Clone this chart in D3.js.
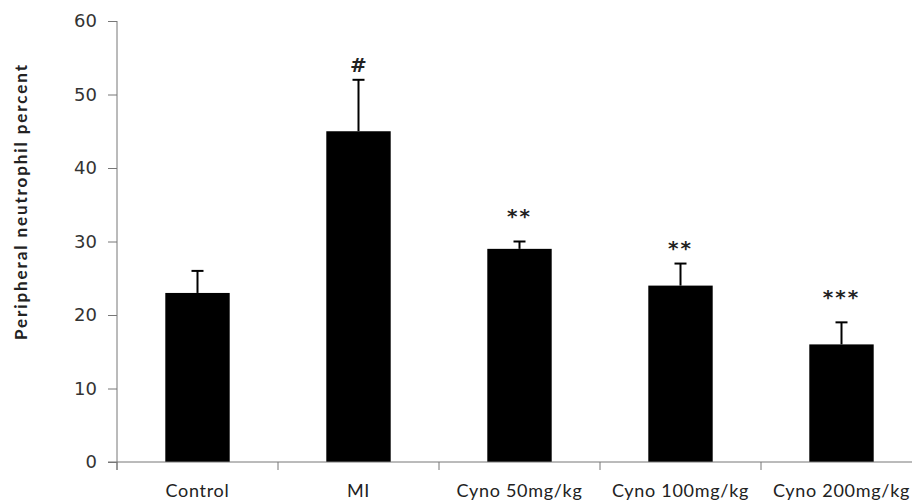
<!DOCTYPE html>
<html>
<head>
<meta charset="utf-8">
<script src="https://cdn.jsdelivr.net/npm/d3@7"></script>
<style>
  body { margin: 0; background: #fff; }
  svg { display: block; }
</style>
</head>
<body>
<div id="chart"></div>
<script>
// data
var groups = ["Control", "MI", "Cyno 50mg/kg", "Cyno 100mg/kg", "Cyno 200mg/kg"]
var means = [23, 45, 29, 24, 16]
var errors = [3, 7, 1, 3, 3]
var marks = ["", "#", "**", "**", "***"]
var markLevels = [0, 54, 34, 29.7, 23] //value where each mark sits
var yTicks = [0, 10, 20, 30, 40, 50, 60]

var width = 912, height = 502
var margin = {top: 21, right: -10, bottom: 40, left: 117}

var svg = d3.select("#chart").append("svg")
            .attr("width", width)
            .attr("height", height)

var x = d3.scaleBand()
          .domain(groups)
          .range([margin.left, width - margin.right])
          .paddingInner(0.6)
          .paddingOuter(0.3)

var band = d3.scaleBand().domain(groups).range([margin.left, width - margin.right])

var y = d3.scaleLinear()
          .domain([0, 60])
          .range([height - margin.bottom, margin.top])

// bars
svg.append("g").selectAll("rect").data(means)
   .enter()
   .append("rect")
   .attr("x", function(d,i){ return x(groups[i]) })
   .attr("y", function(d){ return y(d) })
   .attr("width", x.bandwidth())
   .attr("height", function(d){ return y(0) - y(d) })
   .style("fill", "#000")

// error bars (upper half only)
var errG = svg.append("g").style("stroke", "#000").style("stroke-width", 2)
means.forEach(function(d,i){
  var cx = x(groups[i]) + x.bandwidth()/2
  errG.append("line")
      .attr("x1", cx).attr("x2", cx)
      .attr("y1", y(d)).attr("y2", y(d + errors[i]))
  errG.append("line")
      .attr("x1", cx - 6).attr("x2", cx + 6)
      .attr("y1", y(d + errors[i])).attr("y2", y(d + errors[i]))
})

// significance marks
svg.append("g").selectAll("text").data(marks)
   .enter()
   .append("text")
   .attr("x", function(d,i){ return x(groups[i]) + x.bandwidth()/2 })
   .attr("y", function(d,i){ return y(markLevels[i]) })
   .attr("dy", function(d){ return d == "#" ? 7 : 11 })
   .attr("text-anchor", "middle")
   .style("font-family", "DejaVu Sans")
   .style("font-weight", "bold")
   .style("font-size", "20px")
   .style("letter-spacing", function(d){ return d == "#" ? "0px" : "2px" })
   .style("fill", "#222")
   .text(function(d){ return d })

// y axis
var yAxis = svg.append("g")
               .attr("transform", `translate(${margin.left},0)`)
               .call(d3.axisLeft(y).tickValues(yTicks).tickSize(9).tickPadding(11))
yAxis.select(".domain").attr("d", `M0,${y(60)}V${y(0) + 8}`)
yAxis.selectAll("line").style("stroke", "#777")
yAxis.select(".domain").style("stroke", "#777")
yAxis.selectAll("text")
     .style("font-family", "DejaVu Sans")
     .style("font-size", "18px")
     .style("fill", "#333")

// x axis
var xAxis = svg.append("g")
               .attr("transform", `translate(0,${y(0)})`)
               .call(d3.axisBottom(band).tickSize(0).tickPadding(22))
xAxis.select(".domain").attr("d", `M${margin.left - 9},0H${width}`).style("stroke", "#777")
xAxis.selectAll("text")
     .style("font-family", "Lato")
     .style("font-size", "18px")
     .style("letter-spacing", "0.7px")
     .style("fill", "#222")
// category dividers
xAxis.append("g").selectAll("line").data(groups)
     .enter()
     .append("line")
     .attr("x1", function(d){ return band(d) })
     .attr("x2", function(d){ return band(d) })
     .attr("y1", 0).attr("y2", 8)
     .style("stroke", "#777")

// y axis title
svg.append("text")
   .attr("transform", `translate(27,${(y(0) + y(60))/2 - 39}) rotate(-90)`)
   .attr("text-anchor", "middle")
   .attr("textLength", 275)
   .attr("lengthAdjust", "spacing")
   .style("font-family", "Lato")
   .style("font-weight", "bold")
   .style("font-size", "17px")
   .style("fill", "#222")
   .text("Peripheral neutrophil percent")
</script>
</body>
</html>
